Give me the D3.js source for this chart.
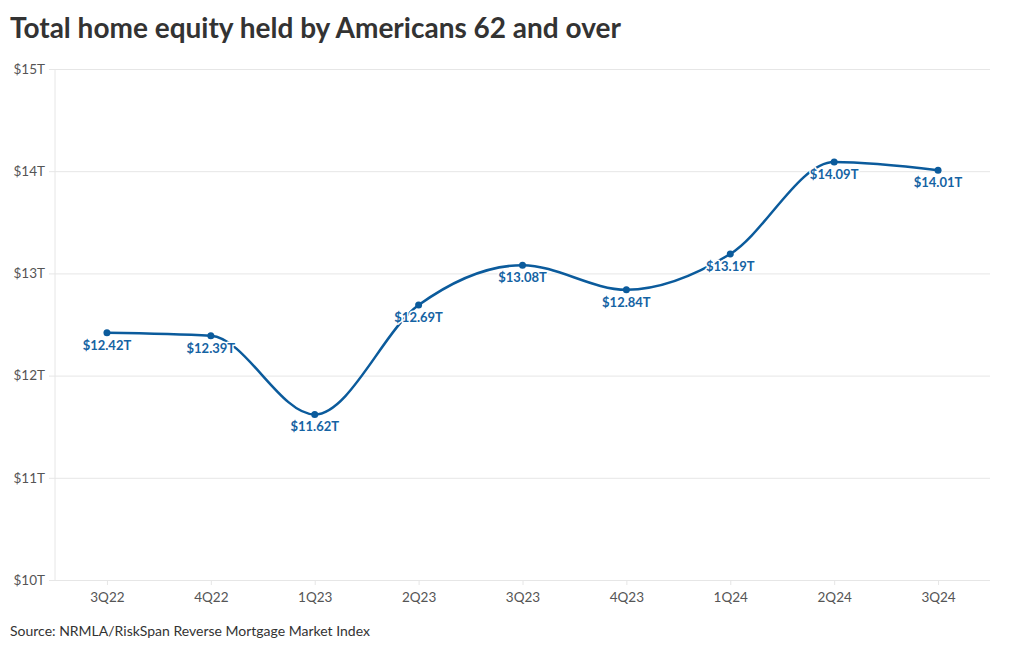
<!DOCTYPE html>
<html>
<head>
<meta charset="utf-8">
<script src="https://cdn.jsdelivr.net/npm/d3@7/dist/d3.min.js"></script>
<style>
  html, body { margin: 0; padding: 0; background: #fff; }
  svg { display: block; font-family: Lato, "Open Sans", sans-serif; }
</style>
</head>
<body>
<svg id="chart" width="1020" height="650"></svg>
<script>
const categories = ["3Q22", "4Q22", "1Q23", "2Q23", "3Q23", "4Q23", "1Q24", "2Q24", "3Q24"];
const values = [12.42, 12.39, 11.62, 12.69, 13.08, 12.84, 13.19, 14.09, 14.01];
const yTicks = [10, 11, 12, 13, 14, 15];
const titleText = "Total home equity held by Americans 62 and over";
const sourceText = "Source: NRMLA/RiskSpan Reverse Mortgage Market Index";

const svg = d3.select("#chart");
const margin = { left: 55, right: 990, top: 69, bottom: 580 };

const x = d3.scalePoint().domain(categories).range([margin.left, margin.right]).padding(0.5);
const y = d3.scaleLinear().domain([10, 15]).range([margin.bottom, margin.top]);

svg.append("text").attr("x", 10).attr("y", 38)
  .attr("font-size", 28).attr("font-weight", 700).attr("fill", "#333")
  .text(titleText);

// grid
const yAxis = svg.append("g").attr("transform", `translate(${margin.left},0)`)
  .call(d3.axisLeft(y).tickValues(yTicks).tickFormat(d => `$${d}T`).tickSize(-(margin.right - margin.left)).tickPadding(10));
yAxis.select(".domain").remove();
yAxis.selectAll(".tick line").attr("stroke", "#e6e6e6").attr("x1", -6);
yAxis.selectAll(".tick text").attr("font-size", 13.5).attr("fill", "#555").attr("font-family", "Lato, sans-serif");

svg.append("line").attr("x1", margin.left).attr("x2", margin.left)
  .attr("y1", margin.top).attr("y2", margin.bottom).attr("stroke", "#e6e6e6");

const xAxis = svg.append("g").attr("transform", `translate(0,${margin.bottom})`)
  .call(d3.axisBottom(x).tickSize(5).tickPadding(7));
xAxis.select(".domain").remove();
xAxis.selectAll(".tick line").attr("stroke", "#e6e6e6");
xAxis.selectAll(".tick text").attr("font-size", 13.5).attr("fill", "#555").attr("font-family", "Lato, sans-serif");

const data = categories.map((c, i) => ({ c, v: values[i] }));
const color = "#0b5b9c";

svg.append("path").datum(data)
  .attr("fill", "none").attr("stroke", color).attr("stroke-width", 2.5)
  .attr("d", d3.line().x(d => x(d.c)).y(d => y(d.v)).curve(d3.curveMonotoneX));

svg.selectAll("circle.pt").data(data).join("circle")
  .attr("class", "pt").attr("cx", d => x(d.c)).attr("cy", d => y(d.v)).attr("r", 3.5).attr("fill", color);

svg.selectAll("text.lbl").data(data).join("text")
  .attr("class", "lbl")
  .attr("x", d => x(d.c)).attr("y", d => y(d.v) + 17)
  .attr("text-anchor", "middle").attr("font-size", 13).attr("font-weight", 700)
  .attr("fill", "#1563a3")
  .attr("stroke", "#fff").attr("stroke-width", 3).attr("paint-order", "stroke").attr("stroke-linejoin", "round")
  .text(d => `$${d.v.toFixed(2)}T`);

svg.append("text").attr("x", 10).attr("y", 636)
  .attr("font-size", 14).attr("fill", "#333").text(sourceText);
</script>
</body>
</html>
